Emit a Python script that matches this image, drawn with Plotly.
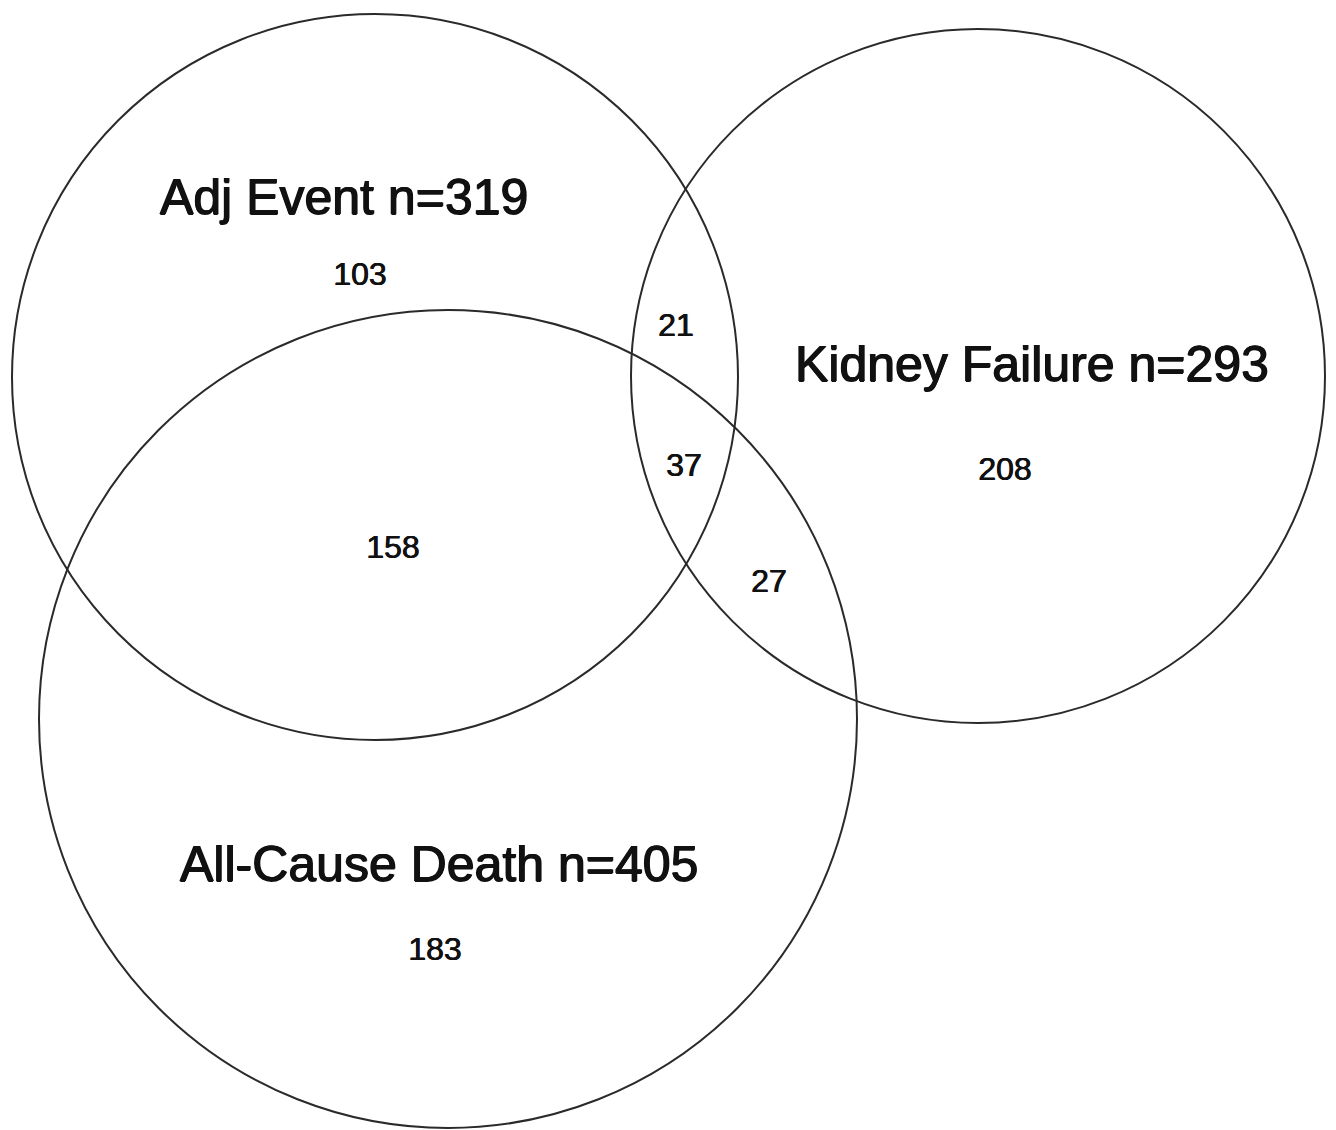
import plotly.graph_objects as go

# ---- data ----
set_names = ["Adj Event", "Kidney Failure", "All-Cause Death"]
set_totals = [319, 293, 405]
region_labels = ["Adj only", "Adj & Kidney", "Adj & Kidney & Death", "Adj & Death",
                 "Kidney only", "Kidney & Death", "Death only"]
region_counts = [103, 21, 37, 158, 208, 27, 183]

# ---- layout geometry (pixel space) ----
W, H = 1336, 1130
circle_geom = [  # (cx, cy, r)
    (375, 377, 363),
    (978, 376, 347),
    (448, 719, 409),
]
title_pos = [(344, 197), (1032, 364), (439, 864)]
region_pos = [(360, 277), (676, 328), (684, 468), (393, 550),
              (1005, 472), (769, 584), (435, 952)]

FONT = "Liberation Sans, Arial, sans-serif"
BIG_SHADOW = "0.7px 0 0 #111, -0.7px 0 0 #111, 0 0.5px 0 #111"
SMALL_SHADOW = "0.4px 0 0 #111, -0.4px 0 0 #111"

fig = go.Figure()

shapes = []
for (cx, cy, r) in circle_geom:
    shapes.append(dict(type="circle", xref="x", yref="y",
                       x0=cx - r, x1=cx + r, y0=cy - r, y1=cy + r,
                       line=dict(color="#2a2a2a", width=2), fillcolor="rgba(0,0,0,0)"))

annotations = []
for name, tot, (x, y) in zip(set_names, set_totals, title_pos):
    annotations.append(dict(x=x, y=y, xref="x", yref="y", text=f"{name} n={tot}",
                            showarrow=False, xanchor="center", yanchor="middle",
                            font=dict(family=FONT, size=50, color="#111111",
                                      shadow=BIG_SHADOW)))

fig.add_trace(go.Scatter(
    x=[p[0] for p in region_pos], y=[p[1] for p in region_pos],
    mode="text", text=[str(v) for v in region_counts],
    textposition="middle center",
    textfont=dict(family=FONT, size=32, color="#111111", shadow=SMALL_SHADOW),
    hovertext=region_labels, hoverinfo="text", showlegend=False))

fig.update_layout(
    width=W, height=H, autosize=False,
    margin=dict(l=0, r=0, t=0, b=0, pad=0),
    paper_bgcolor="white", plot_bgcolor="white",
    shapes=shapes, annotations=annotations,
    xaxis=dict(range=[0, W], visible=False, fixedrange=True),
    yaxis=dict(range=[H, 0], visible=False, fixedrange=True),
)

fig.write_html("out.html", config={"displayModeBar": False},
               post_script="document.body.style.margin='0';")
